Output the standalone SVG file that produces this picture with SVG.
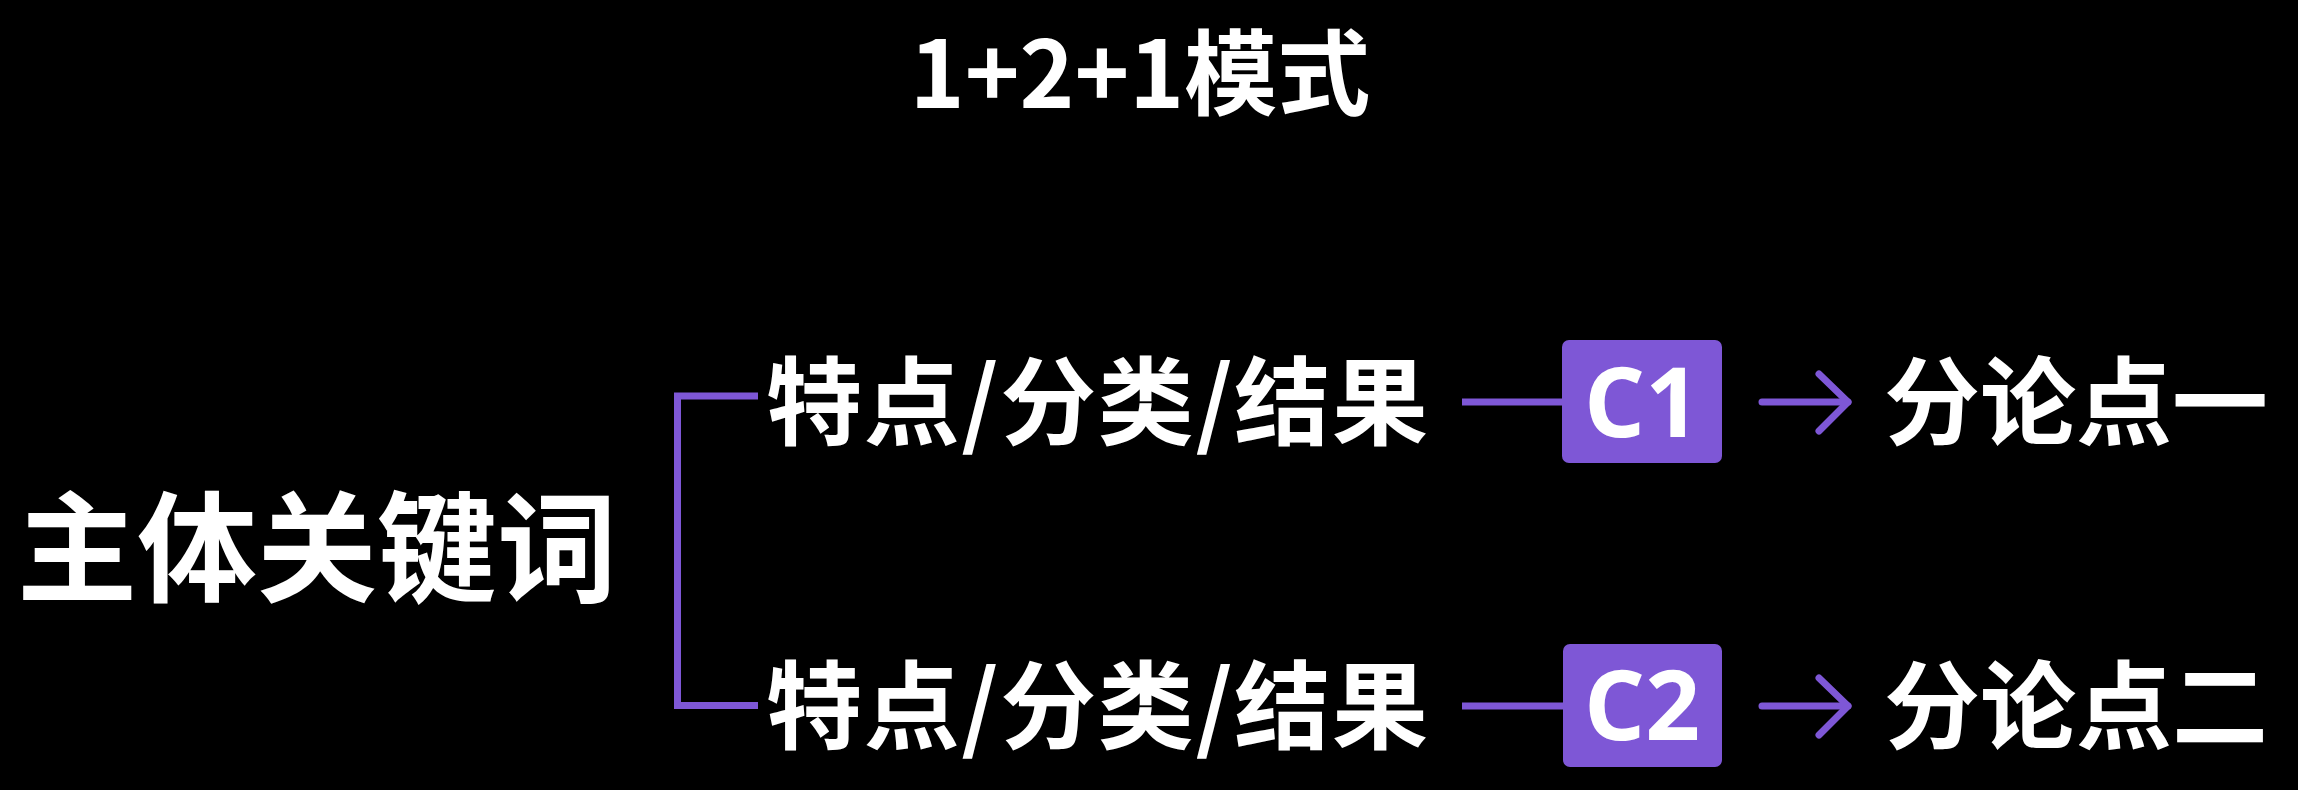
<svg xmlns="http://www.w3.org/2000/svg" width="2298" height="790" viewBox="0 0 2298 790">
  <style>
    .cjk { font-family: "Noto Sans CJK SC", "Noto Sans", sans-serif; font-weight: 700; fill: #ffffff; }
    .lat { font-family: "Open Sans", "Liberation Sans", sans-serif; font-weight: 700; fill: #ffffff; }
    .ln { stroke: #7E57D6; stroke-width: 7; fill: none; }
    .arr { stroke: #7E57D6; stroke-width: 7; fill: none; stroke-linecap: round; stroke-linejoin: round; }
    .box { fill: #7E57D6; }
  </style>
  <rect x="0" y="0" width="2298" height="790" fill="#000000"/>

  <g id="title">
    <text class="cjk" x="1140" y="108" font-size="93" text-anchor="middle">1+2+1模式</text>
  </g>

  <g id="subject">
    <text class="cjk" x="17" y="593" font-size="120">主体关键词</text>
  </g>

  <g id="connectors">
    <path class="ln" d="M758,396 H677.5 V705.5 H758"/>
    <line class="ln" x1="1462" y1="402" x2="1563" y2="402"/>
    <line class="ln" x1="1462" y1="706" x2="1563" y2="706"/>
    <line class="arr" x1="1762" y1="402" x2="1848" y2="402"/>
    <polyline class="arr" points="1819,374 1848,402 1819,431"/>
    <line class="arr" x1="1762" y1="706" x2="1848" y2="706"/>
    <polyline class="arr" points="1819,678 1848,706 1819,735"/>
  </g>

  <g id="feature1">
    <text class="cjk" x="766" y="437" font-size="96" textLength="662" lengthAdjust="spacing">特点/分类/结果</text>
  </g>
  <g id="feature2">
    <text class="cjk" x="766" y="741" font-size="96" textLength="662" lengthAdjust="spacing">特点/分类/结果</text>
  </g>

  <g id="c1">
    <rect class="box" x="1562" y="340" width="160" height="123" rx="7"/>
    <text class="lat" x="1642" y="437" font-size="96" text-anchor="middle">C1</text>
  </g>
  <g id="c2">
    <rect class="box" x="1563" y="644" width="159" height="123" rx="7"/>
    <text class="lat" x="1642" y="740" font-size="96" text-anchor="middle">C2</text>
  </g>

  <g id="point1">
    <text class="cjk" x="1884" y="437" font-size="96">分论点一</text>
  </g>
  <g id="point2">
    <text class="cjk" x="1884" y="741" font-size="96">分论点二</text>
  </g>
</svg>
